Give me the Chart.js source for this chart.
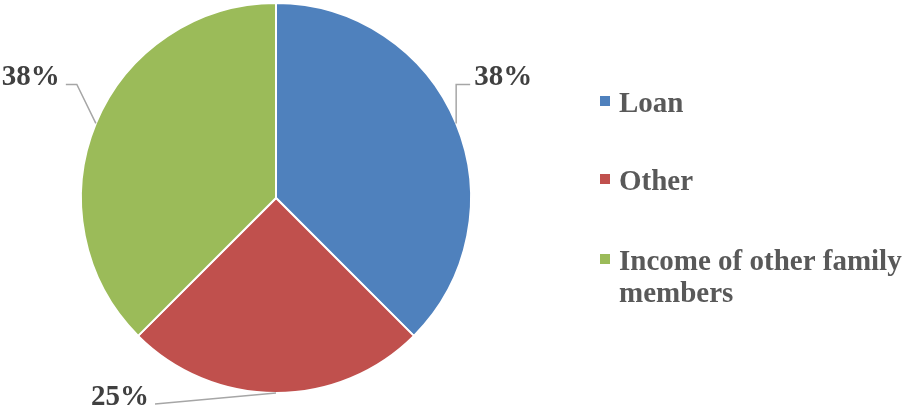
<!DOCTYPE html>
<html>
<head>
<meta charset="utf-8">
<script src="https://cdn.jsdelivr.net/npm/chart.js@4.4.0/dist/chart.umd.min.js"></script>
<style>
  html, body { margin: 0; padding: 0; background: #fff; }
  #wrap { width: 905px; height: 410px; position: relative; }
</style>
</head>
<body>
<div id="wrap"><canvas id="pie"></canvas></div>
<script>
// source categories and shares
const categories = ["Loan", "Other", "Income of other family members"];
const shares = [3, 2, 3];
const sliceColors = ["#4F81BD", "#C0504D", "#9BBB59"];

// legend text wraps onto lines
const legendLines = [["Loan"], ["Other"], ["Income of other family", "members"]];

const FONT = "bold 29px 'Liberation Serif', 'Times New Roman', serif";

// leader line route for each slice label: elbow offset from the arc edge, then text anchor
const leaders = [
  { elbow: [0, -39], end: [14, 0], align: "left" },
  { elbow: [-121, 11], end: [0, 0], align: "right" },
  { elbow: [-19, -39], end: [-11, 0], align: "right" }
];

const pieLabels = {
  id: "pieLabels",
  afterDatasetsDraw(chart) {
    const ctx = chart.ctx;
    const meta = chart.getDatasetMeta(0);
    const total = shares.reduce((a, b) => a + b, 0);
    ctx.save();
    meta.data.forEach((arc, i) => {
      const mid = (arc.startAngle + arc.endAngle) / 2;
      const ex = arc.x + Math.cos(mid) * arc.outerRadius;
      const ey = arc.y + Math.sin(mid) * arc.outerRadius;
      const l = leaders[i];
      const bx = ex + l.elbow[0], by = ey + l.elbow[1];
      const cx = bx + l.end[0], cy = by + l.end[1];
      ctx.strokeStyle = "#A6A6A6";
      ctx.lineWidth = 1.5;
      ctx.beginPath();
      ctx.moveTo(ex, ey);
      ctx.lineTo(bx, by);
      ctx.lineTo(cx, cy);
      ctx.stroke();
      ctx.fillStyle = "#404040";
      ctx.font = FONT;
      ctx.textBaseline = "alphabetic";
      ctx.textAlign = l.align;
      const txt = Math.round(shares[i] / total * 100) + "%";
      ctx.fillText(txt, cx + (l.align === "left" ? 4 : -6), cy + 1);
    });
    ctx.restore();
  }
};

const sideLegend = {
  id: "sideLegend",
  afterDraw(chart) {
    const ctx = chart.ctx;
    const rows = [112, 190, 270];
    ctx.save();
    ctx.font = FONT;
    ctx.textAlign = "left";
    ctx.textBaseline = "alphabetic";
    legendLines.forEach((lines, i) => {
      ctx.fillStyle = sliceColors[i];
      ctx.fillRect(600, rows[i] - 16, 10, 10);
      ctx.fillStyle = "#595959";
      lines.forEach((t, j) => ctx.fillText(t, 619, rows[i] + j * 32));
    });
    ctx.restore();
  }
};

new Chart(document.getElementById("pie"), {
  type: "pie",
  data: {
    labels: categories,
    datasets: [{
      data: shares,
      backgroundColor: sliceColors,
      borderColor: "#ffffff",
      borderWidth: 2
    }]
  },
  options: {
    responsive: true,
    maintainAspectRatio: false,
    animation: false,
    layout: { padding: { left: 80, right: 433, top: 2, bottom: 16 } },
    plugins: {
      legend: { display: false },
      tooltip: { enabled: false }
    }
  },
  plugins: [pieLabels, sideLegend]
});
</script>
</body>
</html>
